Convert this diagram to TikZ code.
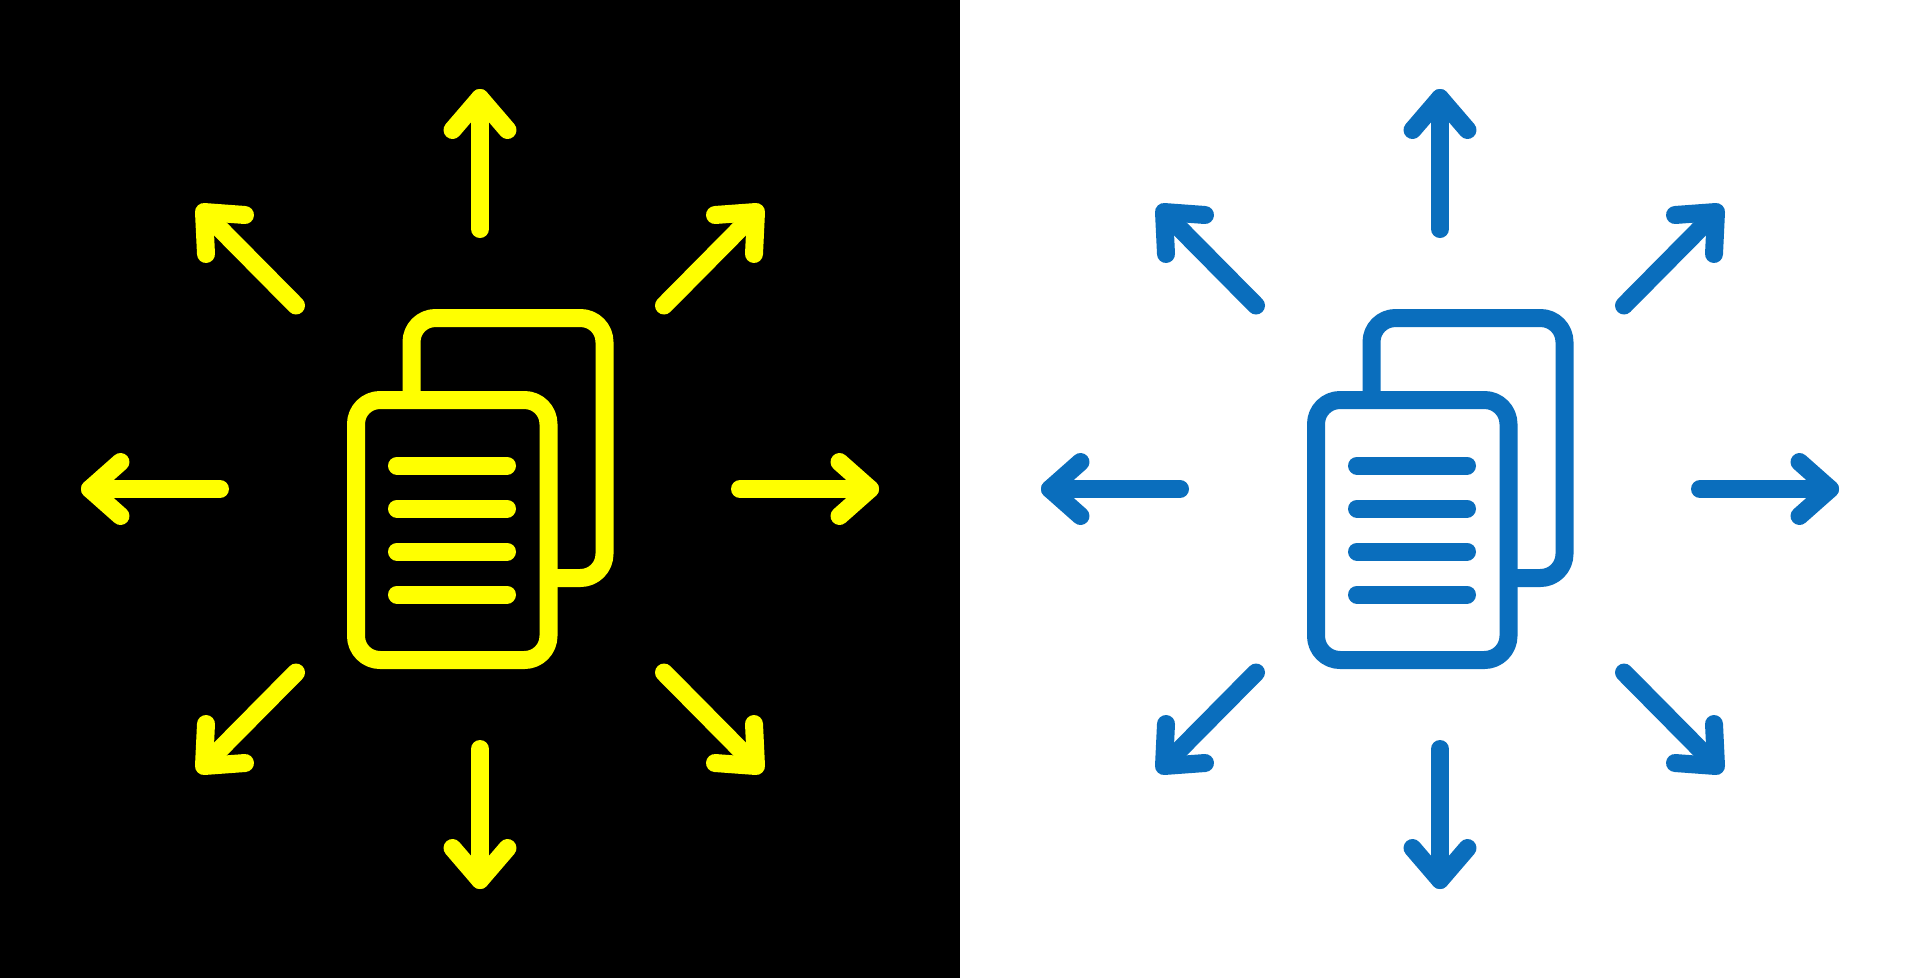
\documentclass[tikz,border=0pt]{standalone}
\usepackage{tikz}

\definecolor{iconyellow}{RGB}{255,255,0}
\definecolor{iconblue}{RGB}{10,110,189}

\tikzset{
  pen/.style={line width=0.36cm,line cap=round,line join=round},
  page/.style={pen,rounded corners=0.48cm,line cap=butt}
}

\begin{document}
\begin{tikzpicture}[x=0.02cm,y=-0.02cm]

\useasboundingbox (0,0) rectangle (1920,978);
\fill[black] (0,0) rectangle (960,978);
\fill[white] (960,0) rectangle (1920,978);

\foreach \xs/\col in {0/iconyellow,960/iconblue}{
\begin{scope}[xshift=\xs*0.02cm,color=\col]

% back page
\draw[page] (411.5,400)--(411.5,318)--(604.5,318)--(604.5,578)--(548.5,578);

% front page
\draw[page] (356,400) rectangle (548.5,660);

% text lines
\draw[pen] (397,465.5)--(507,465.5);
\draw[pen] (397,508.5)--(507,508.5);
\draw[pen] (397,551.5)--(507,551.5);
\draw[pen] (397,594.5)--(507,594.5);

% up and down
\draw[pen] (480,229)--(480,98);
\draw[pen] (452.5,130)--(480,98)--(507.5,130);
\draw[pen] (480,749)--(480,880);
\draw[pen] (452.5,848)--(480,880)--(507.5,848);

% left and right
\draw[pen] (220,489)--(90,489);
\draw[pen] (120.5,462)--(90,489)--(120.5,516);
\draw[pen] (740,489)--(870,489);
\draw[pen] (839.5,462)--(870,489)--(839.5,516);

% diagonals
\draw[pen] (296,305.5)--(204.5,213);
\draw[pen] (245,215)--(204,212)--(206,254);
\draw[pen] (664,305.5)--(755.5,213);
\draw[pen] (715,215)--(756,212)--(754,254);
\draw[pen] (296,672.5)--(204.5,765);
\draw[pen] (245,763)--(204,766)--(206,724);
\draw[pen] (664,672.5)--(755.5,765);
\draw[pen] (715,763)--(756,766)--(754,724);

\end{scope}
}

\end{tikzpicture}
\end{document}
